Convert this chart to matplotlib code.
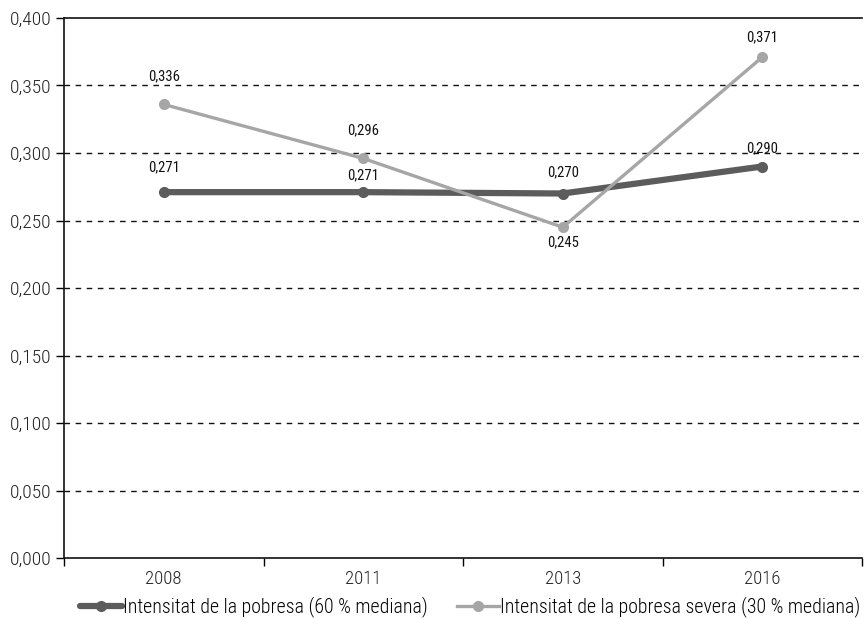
import matplotlib
matplotlib.use("Agg")
import matplotlib.pyplot as plt
from matplotlib import font_manager as fm

years = ["2008", "2011", "2013", "2016"]
intensitat = [0.271, 0.271, 0.270, 0.290]
severa = [0.336, 0.296, 0.245, 0.371]
label_int = "Intensitat de la pobresa (60 % mediana)"
label_sev = "Intensitat de la pobresa severa (30 % mediana)"

names = {f.name for f in fm.fontManager.ttflist}
fam = "Roboto Condensed" if "Roboto Condensed" in names else "DejaVu Sans"
plt.rcParams['font.family'] = [fam, 'DejaVu Sans']
plt.rcParams['font.weight'] = 'light'

fig = plt.figure(figsize=(8.64, 6.19), dpi=100)
ax = fig.add_axes([64/864, 1-558/619, (862-64)/864, (558-18)/619])

dark = "#5c5c5c"
light = "#a6a6a6"
x = list(range(len(years)))
ax.plot(x, intensitat, color=dark, lw=4.5, marker="o", ms=7, label=label_int, zorder=3, solid_capstyle="round")
ax.plot(x, severa, color=light, lw=2.4, marker="o", ms=7, label=label_sev, zorder=4)

def fmt(v):
    return f"{v:.3f}".replace(".", ",")

# label offsets in points (dy), per point
int_dy = [18, 12, 15, 13]
sev_dy = [20, 20, -11, 14]
for i, v in enumerate(intensitat):
    ax.annotate(fmt(v), (i, v), xytext=(0, int_dy[i]), textcoords="offset points", ha="center",
                va="center", fontsize=10.5, color="#111111", fontweight="normal")
for i, v in enumerate(severa):
    ax.annotate(fmt(v), (i, v), xytext=(0, sev_dy[i]), textcoords="offset points", ha="center",
                va="center", fontsize=10.5, color="#111111", fontweight="normal")

ax.set_xlim(-0.5, len(years) - 0.5)
ax.set_ylim(0, 0.4)
yt = [i * 0.05 for i in range(9)]
ax.set_yticks(yt)
ax.set_yticklabels([fmt(v) for v in yt], fontsize=14, color="#222222")
ax.set_xticks(x)
ax.set_xticklabels(years, fontsize=13.5, color="#222222")
ax.set_xticks([i - 0.5 for i in range(len(years) + 1)], minor=True)
ax.tick_params(axis="x", which="major", length=0, pad=9)
ax.tick_params(axis="x", which="minor", length=6, width=1, direction="out")
ax.tick_params(axis="y", length=6, width=1, direction="out", pad=3)

for yv in yt[1:-1]:
    ax.axhline(yv, color="#111111", lw=1, ls=(0, (4, 4)), zorder=1)

ax.spines["right"].set_visible(False)
for s in ["left", "bottom", "top"]:
    ax.spines[s].set_color("#111111")
    ax.spines[s].set_linewidth(1.2)

leg = fig.legend(loc="center", bbox_to_anchor=(470/864, 1 - 607/619), ncol=2, frameon=False,
                 fontsize=14.3, handlelength=2.1, handletextpad=0.05, columnspacing=1.5, borderaxespad=0)

fig.savefig("out.png", dpi=100)
